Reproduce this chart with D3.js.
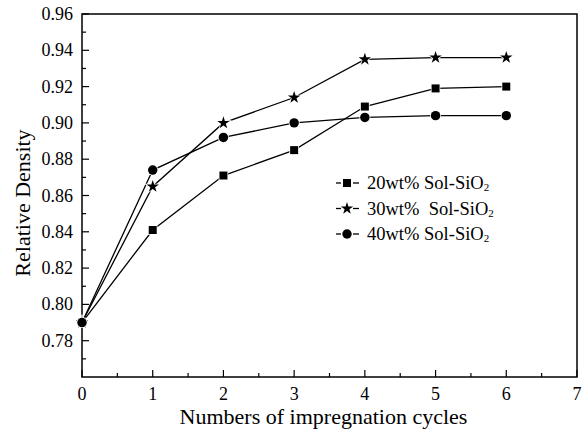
<!DOCTYPE html>
<html>
<head>
    <meta charset="utf-8" />
    <style>
        body { margin: 0; background: #fff; }
        text { font-family: "Liberation Serif", "Times New Roman", serif; fill: #000; }
    </style>
    <script src="https://d3js.org/d3.v7.min.js"></script>
</head>
<body>
<svg id="chart"></svg>
<script>

let cycles = [0, 1, 2, 3, 4, 5, 6];
let sol20 = [0.790, 0.841, 0.871, 0.885, 0.909, 0.919, 0.920];
let sol30 = [0.790, 0.865, 0.900, 0.914, 0.935, 0.936, 0.936];
let sol40 = [0.790, 0.874, 0.892, 0.900, 0.903, 0.904, 0.904];
let seriesNames = ["20wt% Sol-SiO", "30wt%  Sol-SiO", "40wt% Sol-SiO"];
let xTicks = [0, 1, 2, 3, 4, 5, 6, 7];
let yTicks = [0.78, 0.80, 0.82, 0.84, 0.86, 0.88, 0.90, 0.92, 0.94, 0.96];

let W = 585, H = 433;
let svg = d3.select("#chart").attr("width", W).attr("height", H);

let x = d3.scaleLinear().domain([0, 7]).range([82, 577]);
let y = d3.scaleLinear().domain([0.76, 0.96]).range([377, 14]);

// frame
svg.append("rect")
    .attr("x", x(0)).attr("y", y(0.96))
    .attr("width", x(7) - x(0)).attr("height", y(0.76) - y(0.96))
    .attr("fill", "none").attr("stroke", "#000").attr("stroke-width", 1.5);

// x axis
let gx = svg.append("g").attr("transform", "translate(0," + y(0.76) + ")");
gx.selectAll(".minor").data(d3.range(0.5, 7, 1)).enter().append("line")
    .attr("x1", d => x(d)).attr("x2", d => x(d)).attr("y1", 0).attr("y2", -4)
    .attr("stroke", "#000").attr("stroke-width", 1.2);
gx.selectAll(".major").data(xTicks).enter().append("line")
    .attr("x1", d => x(d)).attr("x2", d => x(d)).attr("y1", 0).attr("y2", -7)
    .attr("stroke", "#000").attr("stroke-width", 1.2);
gx.selectAll("text").data(xTicks).enter().append("text")
    .attr("x", d => x(d)).attr("y", 23)
    .attr("text-anchor", "middle").attr("font-size", 18)
    .text(d => d);

// y axis
let gy = svg.append("g").attr("transform", "translate(" + x(0) + ",0)");
gy.selectAll(".minor").data(d3.range(0.77, 0.96, 0.02)).enter().append("line")
    .attr("y1", d => y(d)).attr("y2", d => y(d)).attr("x1", 0).attr("x2", 4)
    .attr("stroke", "#000").attr("stroke-width", 1.2);
gy.selectAll(".major").data(yTicks).enter().append("line")
    .attr("y1", d => y(d)).attr("y2", d => y(d)).attr("x1", 0).attr("x2", 7)
    .attr("stroke", "#000").attr("stroke-width", 1.2);
gy.selectAll("text").data(yTicks).enter().append("text")
    .attr("x", -9).attr("y", d => y(d) + 6)
    .attr("text-anchor", "end").attr("font-size", 18)
    .text(d => d.toFixed(2));

// axis titles
svg.append("text")
    .attr("x", 323.5).attr("y", 424)
    .attr("text-anchor", "middle").attr("font-size", 22)
    .text("Numbers of impregnation cycles");
svg.append("text")
    .attr("transform", "translate(30,203) rotate(-90)")
    .attr("text-anchor", "middle").attr("font-size", 22)
    .text("Relative Density");

// markers
let star = d3.symbol().type(d3.symbolStar).size(48);
let square = d3.symbol().type(d3.symbolSquare).size(64);
let circle = d3.symbol().type(d3.symbolCircle).size(70);

let series = [
    { vals: sol20, sym: square },
    { vals: sol30, sym: star },
    { vals: sol40, sym: circle }
];

let line = d3.line().x((d, i) => x(cycles[i])).y(d => y(d));

series.forEach(s => {
    svg.append("path").datum(s.vals)
        .attr("d", line).attr("fill", "none")
        .attr("stroke", "#000").attr("stroke-width", 1.3);
});
series.forEach(s => {
    svg.append("g").selectAll("path").data(s.vals).enter().append("path")
        .attr("d", s.sym)
        .attr("transform", (d, i) => "translate(" + x(cycles[i]) + "," + y(d) + ")")
        .attr("fill", "#000").attr("stroke", "#fff").attr("stroke-width", 1.5)
        .attr("paint-order", "stroke");
});

// legend
let leg = svg.append("g");
series.forEach((s, i) => {
    let ly = 183 + i * 25.5;
    leg.append("line").attr("x1", 336).attr("x2", 341).attr("y1", ly).attr("y2", ly)
        .attr("stroke", "#000").attr("stroke-width", 1.3);
    leg.append("line").attr("x1", 353).attr("x2", 359).attr("y1", ly).attr("y2", ly)
        .attr("stroke", "#000").attr("stroke-width", 1.3);
    leg.append("path").attr("d", s.sym)
        .attr("transform", "translate(347," + ly + ")")
        .attr("fill", "#000");
    let t = leg.append("text").attr("x", 367).attr("y", ly + 6)
        .attr("font-size", 18.5).attr("xml:space", "preserve");
    t.append("tspan").text(seriesNames[i]);
    t.append("tspan").attr("font-size", 11).attr("dy", 2).text("2");
});

</script>
</body>
</html>
